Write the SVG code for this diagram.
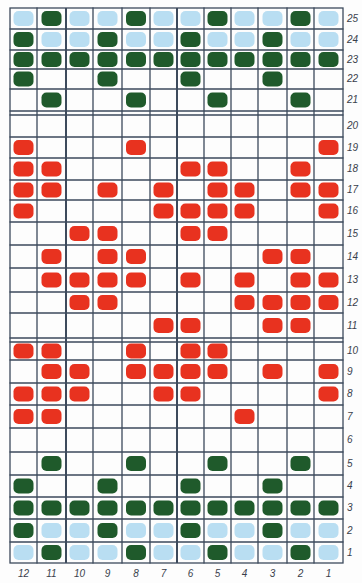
<svg xmlns="http://www.w3.org/2000/svg" width="362" height="583" viewBox="0 0 362 583">
<style>
.grid{fill:none;stroke:#3d4a5c;stroke-width:1.3;stroke-linecap:round}
.thick{fill:none;stroke:#3d4a5c;stroke-width:2}
.r{fill:#e8321f}
.g{fill:#1f5a2b}
.b{fill:#b9def2}
.lbl{font-family:"Liberation Sans",Arial,sans-serif;font-size:10px;fill:#3a3f4c;font-style:italic}
</style>
<defs>
<rect id="blob" width="20" height="15" rx="5"/>
</defs>
<rect width="362" height="583" fill="#fdfdfd"/>
<g id="grid">
<rect class="grid" x="10" y="8" width="333" height="555"/>
<path class="grid" d="M10 29H343M10 50H343M10 69H343M10 89H343M10 111H343M10 115H343M10 137H343M10 158H343M10 180H343M10 200H343M10 222H343M10 245H343M10 268H343M10 292H343M10 313H343M10 338H343M10 342H343M10 360H343M10 383H343M10 405H343M10 428H343M10 452H343M10 475H343M10 497H343M10 519H343M10 542H343"/>
<path class="grid" d="M37 8V563M93 8V563M122 8V563M150 8V563M204 8V563M231 8V563M258 8V563M287 8V563M314 8V563"/>
<path class="thick" d="M66 8V563M177 8V563"/>
</g>
<g id="row25">
<use href="#blob" class="b" x="13.5" y="11"/><use href="#blob" class="g" x="41.5" y="11"/><use href="#blob" class="b" x="69.5" y="11"/><use href="#blob" class="b" x="97.5" y="11"/><use href="#blob" class="g" x="126" y="11"/><use href="#blob" class="b" x="153.5" y="11"/><use href="#blob" class="b" x="180.5" y="11"/><use href="#blob" class="g" x="207.5" y="11"/><use href="#blob" class="b" x="234.5" y="11"/><use href="#blob" class="b" x="262.5" y="11"/><use href="#blob" class="g" x="290.5" y="11"/><use href="#blob" class="b" x="318.5" y="11"/>
</g>
<g id="row24">
<use href="#blob" class="g" x="13.5" y="32"/><use href="#blob" class="b" x="41.5" y="32"/><use href="#blob" class="b" x="69.5" y="32"/><use href="#blob" class="g" x="97.5" y="32"/><use href="#blob" class="b" x="126" y="32"/><use href="#blob" class="b" x="153.5" y="32"/><use href="#blob" class="g" x="180.5" y="32"/><use href="#blob" class="b" x="207.5" y="32"/><use href="#blob" class="b" x="234.5" y="32"/><use href="#blob" class="g" x="262.5" y="32"/><use href="#blob" class="b" x="290.5" y="32"/><use href="#blob" class="b" x="318.5" y="32"/>
</g>
<g id="row23">
<use href="#blob" class="g" x="13.5" y="52"/><use href="#blob" class="g" x="41.5" y="52"/><use href="#blob" class="g" x="69.5" y="52"/><use href="#blob" class="g" x="97.5" y="52"/><use href="#blob" class="g" x="126" y="52"/><use href="#blob" class="g" x="153.5" y="52"/><use href="#blob" class="g" x="180.5" y="52"/><use href="#blob" class="g" x="207.5" y="52"/><use href="#blob" class="g" x="234.5" y="52"/><use href="#blob" class="g" x="262.5" y="52"/><use href="#blob" class="g" x="290.5" y="52"/><use href="#blob" class="g" x="318.5" y="52"/>
</g>
<g id="row22">
<use href="#blob" class="g" x="13.5" y="71.5"/><use href="#blob" class="g" x="97.5" y="71.5"/><use href="#blob" class="g" x="180.5" y="71.5"/><use href="#blob" class="g" x="262.5" y="71.5"/>
</g>
<g id="row21">
<use href="#blob" class="g" x="41.5" y="92.5"/><use href="#blob" class="g" x="126" y="92.5"/><use href="#blob" class="g" x="207.5" y="92.5"/><use href="#blob" class="g" x="290.5" y="92.5"/>
</g>
<g id="row19">
<use href="#blob" class="r" x="13.5" y="140"/><use href="#blob" class="r" x="126" y="140"/><use href="#blob" class="r" x="318.5" y="140"/>
</g>
<g id="row18">
<use href="#blob" class="r" x="13.5" y="161.5"/><use href="#blob" class="r" x="41.5" y="161.5"/><use href="#blob" class="r" x="180.5" y="161.5"/><use href="#blob" class="r" x="207.5" y="161.5"/><use href="#blob" class="r" x="290.5" y="161.5"/>
</g>
<g id="row17">
<use href="#blob" class="r" x="13.5" y="182.5"/><use href="#blob" class="r" x="41.5" y="182.5"/><use href="#blob" class="r" x="97.5" y="182.5"/><use href="#blob" class="r" x="153.5" y="182.5"/><use href="#blob" class="r" x="207.5" y="182.5"/><use href="#blob" class="r" x="234.5" y="182.5"/><use href="#blob" class="r" x="290.5" y="182.5"/><use href="#blob" class="r" x="318.5" y="182.5"/>
</g>
<g id="row16">
<use href="#blob" class="r" x="13.5" y="203.5"/><use href="#blob" class="r" x="153.5" y="203.5"/><use href="#blob" class="r" x="180.5" y="203.5"/><use href="#blob" class="r" x="207.5" y="203.5"/><use href="#blob" class="r" x="234.5" y="203.5"/><use href="#blob" class="r" x="318.5" y="203.5"/>
</g>
<g id="row15">
<use href="#blob" class="r" x="69.5" y="226"/><use href="#blob" class="r" x="97.5" y="226"/><use href="#blob" class="r" x="180.5" y="226"/><use href="#blob" class="r" x="207.5" y="226"/>
</g>
<g id="row14">
<use href="#blob" class="r" x="41.5" y="249"/><use href="#blob" class="r" x="97.5" y="249"/><use href="#blob" class="r" x="126" y="249"/><use href="#blob" class="r" x="262.5" y="249"/><use href="#blob" class="r" x="290.5" y="249"/>
</g>
<g id="row13">
<use href="#blob" class="r" x="41.5" y="272.5"/><use href="#blob" class="r" x="69.5" y="272.5"/><use href="#blob" class="r" x="97.5" y="272.5"/><use href="#blob" class="r" x="126" y="272.5"/><use href="#blob" class="r" x="180.5" y="272.5"/><use href="#blob" class="r" x="234.5" y="272.5"/><use href="#blob" class="r" x="290.5" y="272.5"/><use href="#blob" class="r" x="318.5" y="272.5"/>
</g>
<g id="row12">
<use href="#blob" class="r" x="69.5" y="295"/><use href="#blob" class="r" x="97.5" y="295"/><use href="#blob" class="r" x="234.5" y="295"/><use href="#blob" class="r" x="262.5" y="295"/><use href="#blob" class="r" x="290.5" y="295"/><use href="#blob" class="r" x="318.5" y="295"/>
</g>
<g id="row11">
<use href="#blob" class="r" x="153.5" y="318"/><use href="#blob" class="r" x="180.5" y="318"/><use href="#blob" class="r" x="262.5" y="318"/><use href="#blob" class="r" x="290.5" y="318"/>
</g>
<g id="row10">
<use href="#blob" class="r" x="13.5" y="343.5"/><use href="#blob" class="r" x="41.5" y="343.5"/><use href="#blob" class="r" x="126" y="343.5"/><use href="#blob" class="r" x="180.5" y="343.5"/><use href="#blob" class="r" x="207.5" y="343.5"/>
</g>
<g id="row9">
<use href="#blob" class="r" x="41.5" y="364"/><use href="#blob" class="r" x="69.5" y="364"/><use href="#blob" class="r" x="126" y="364"/><use href="#blob" class="r" x="153.5" y="364"/><use href="#blob" class="r" x="180.5" y="364"/><use href="#blob" class="r" x="207.5" y="364"/><use href="#blob" class="r" x="262.5" y="364"/><use href="#blob" class="r" x="318.5" y="364"/>
</g>
<g id="row8">
<use href="#blob" class="r" x="13.5" y="386.5"/><use href="#blob" class="r" x="41.5" y="386.5"/><use href="#blob" class="r" x="69.5" y="386.5"/><use href="#blob" class="r" x="153.5" y="386.5"/><use href="#blob" class="r" x="180.5" y="386.5"/><use href="#blob" class="r" x="318.5" y="386.5"/>
</g>
<g id="row7">
<use href="#blob" class="r" x="13.5" y="409"/><use href="#blob" class="r" x="41.5" y="409"/><use href="#blob" class="r" x="234.5" y="409"/>
</g>
<g id="row5">
<use href="#blob" class="g" x="41.5" y="456"/><use href="#blob" class="g" x="126" y="456"/><use href="#blob" class="g" x="207.5" y="456"/><use href="#blob" class="g" x="290.5" y="456"/>
</g>
<g id="row4">
<use href="#blob" class="g" x="13.5" y="478.5"/><use href="#blob" class="g" x="97.5" y="478.5"/><use href="#blob" class="g" x="180.5" y="478.5"/><use href="#blob" class="g" x="262.5" y="478.5"/>
</g>
<g id="row3">
<use href="#blob" class="g" x="13.5" y="500.5"/><use href="#blob" class="g" x="41.5" y="500.5"/><use href="#blob" class="g" x="69.5" y="500.5"/><use href="#blob" class="g" x="97.5" y="500.5"/><use href="#blob" class="g" x="126" y="500.5"/><use href="#blob" class="g" x="153.5" y="500.5"/><use href="#blob" class="g" x="180.5" y="500.5"/><use href="#blob" class="g" x="207.5" y="500.5"/><use href="#blob" class="g" x="234.5" y="500.5"/><use href="#blob" class="g" x="262.5" y="500.5"/><use href="#blob" class="g" x="290.5" y="500.5"/><use href="#blob" class="g" x="318.5" y="500.5"/>
</g>
<g id="row2">
<use href="#blob" class="g" x="13.5" y="523"/><use href="#blob" class="b" x="41.5" y="523"/><use href="#blob" class="b" x="69.5" y="523"/><use href="#blob" class="g" x="97.5" y="523"/><use href="#blob" class="b" x="126" y="523"/><use href="#blob" class="b" x="153.5" y="523"/><use href="#blob" class="g" x="180.5" y="523"/><use href="#blob" class="b" x="207.5" y="523"/><use href="#blob" class="b" x="234.5" y="523"/><use href="#blob" class="g" x="262.5" y="523"/><use href="#blob" class="b" x="290.5" y="523"/><use href="#blob" class="b" x="318.5" y="523"/>
</g>
<g id="row1">
<use href="#blob" class="b" x="13.5" y="545"/><use href="#blob" class="g" x="41.5" y="545"/><use href="#blob" class="b" x="69.5" y="545"/><use href="#blob" class="b" x="97.5" y="545"/><use href="#blob" class="g" x="126" y="545"/><use href="#blob" class="b" x="153.5" y="545"/><use href="#blob" class="b" x="180.5" y="545"/><use href="#blob" class="g" x="207.5" y="545"/><use href="#blob" class="b" x="234.5" y="545"/><use href="#blob" class="b" x="262.5" y="545"/><use href="#blob" class="g" x="290.5" y="545"/><use href="#blob" class="b" x="318.5" y="545"/>
</g>
<g id="row-labels" class="lbl">
<text x="347" y="22">25</text><text x="347" y="43">24</text><text x="347" y="63">23</text><text x="347" y="82">22</text><text x="347" y="103">21</text><text x="347" y="129">20</text><text x="347" y="151">19</text><text x="347" y="172">18</text><text x="347" y="193">17</text><text x="347" y="214">16</text><text x="347" y="237">15</text><text x="347" y="260">14</text><text x="347" y="283">13</text><text x="347" y="306">12</text><text x="347" y="329">11</text><text x="347" y="354">10</text><text x="347" y="375">9</text><text x="347" y="397">8</text><text x="347" y="420">7</text><text x="347" y="443">6</text><text x="347" y="467">5</text><text x="347" y="489">4</text><text x="347" y="511">3</text><text x="347" y="534">2</text><text x="347" y="556">1</text>
</g>
<g id="col-labels" class="lbl" text-anchor="middle">
<text x="23.5" y="577">12</text><text x="51.5" y="577">11</text><text x="79.5" y="577">10</text><text x="107.5" y="577">9</text><text x="136" y="577">8</text><text x="163.5" y="577">7</text><text x="190.5" y="577">6</text><text x="217.5" y="577">5</text><text x="244.5" y="577">4</text><text x="272.5" y="577">3</text><text x="300.5" y="577">2</text><text x="328.5" y="577">1</text>
</g>
</svg>
